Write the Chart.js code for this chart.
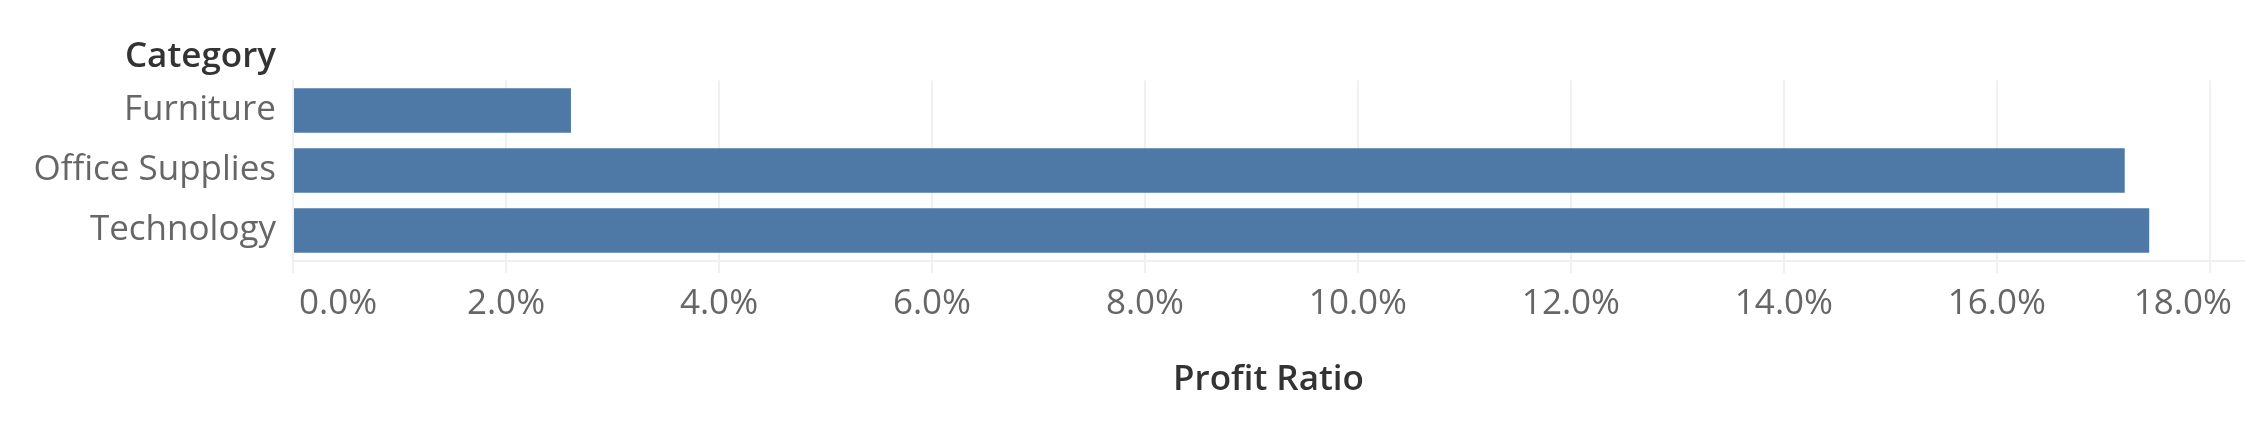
<!DOCTYPE html>
<html>
<head>
<meta charset="utf-8">
<script src="https://cdn.jsdelivr.net/npm/chart.js@4/dist/chart.umd.min.js"></script>
<style>
  html, body { margin: 0; padding: 0; background: #fff; }
  #wrap { width: 2260px; height: 433px; }
</style>
</head>
<body>
<div id="wrap"><canvas id="chart" width="2260" height="433"></canvas></div>
<script>
// dữ liệu
const categories = ['Furniture', 'Office Supplies', 'Technology'];
const profitRatio = [2.61, 17.20, 17.43];
const axisMax = 18.32;
const tickStep = 2;

const barColor = '#4e79a7';
const gridColor = '#f0f0f0';
const fontFamily = '"Open Sans", Lato, sans-serif';

// căn nhãn đầu/cuối của trục x vào trong như Tableau
const edgeLabels = {
    id: 'edgeLabels',
    beforeDraw(chart) {
        const sx = chart.scales.x;
        if (!sx || !sx.getLabelItems) return;
        const items = sx.getLabelItems();
        if (!items || !items.length) return;
        const first = items[0].options;
        const last = items[items.length - 1].options;
        first.textAlign = 'left';
        first.translation[0] = chart.chartArea.left + 6;
        last.textAlign = 'right';
        last.translation[0] = chart.chartArea.right - 12;
    }
};

// tiêu đề "Category" phía trên nhãn trục y
const rowHeader = {
    id: 'rowHeader',
    afterDraw(chart) {
        const sy = chart.scales.y;
        const ctx = chart.ctx;
        ctx.save();
        ctx.font = '600 35px ' + fontFamily;
        ctx.fillStyle = '#333333';
        ctx.textAlign = 'right';
        ctx.textBaseline = 'alphabetic';
        ctx.fillText('Category', sy.right - 17, 67);
        ctx.restore();
    }
};

new Chart(document.getElementById('chart').getContext('2d'), {
    type: 'bar',
    data: {
        labels: categories,
        datasets: [{
            label: 'Profit Ratio',
            data: profitRatio,
            backgroundColor: barColor,
            borderWidth: 0,
            barPercentage: 0.74,
            categoryPercentage: 1
        }]
    },
    options: {
        indexAxis: 'y',
        responsive: false,
        animation: false,
        layout: { padding: { top: 80.5, right: 16, bottom: 0, left: 0 } },
        plugins: {
            legend: { display: false },
            tooltip: { enabled: false }
        },
        scales: {
            x: {
                min: 0,
                max: axisMax,
                afterFit(s) {
                    s.height = 433 - 260.5;
                    s.paddingLeft = 0;
                    s.paddingRight = 0;
                },
                grid: { color: gridColor, lineWidth: 2, drawTicks: true, tickLength: 12.5, tickColor: gridColor },
                border: { display: true, color: gridColor, width: 2 },
                ticks: {
                    stepSize: tickStep,
                    includeBounds: false,
                    maxRotation: 0,
                    autoSkip: false,
                    padding: 10,
                    color: '#666666',
                    font: { family: fontFamily, size: 35 },
                    callback: v => v.toFixed(1) + '%'
                },
                title: {
                    display: true,
                    text: 'Profit Ratio',
                    color: '#333333',
                    font: { family: fontFamily, size: 35, weight: '600' },
                    padding: { top: 0, bottom: 32 }
                }
            },
            y: {
                afterFit(s) {
                    s.width = 293;
                    s.paddingTop = 0;
                    s.paddingBottom = 0;
                },
                grid: { display: false, drawTicks: false },
                border: { display: false },
                ticks: {
                    padding: 17,
                    color: '#666666',
                    font: { family: fontFamily, size: 35 }
                }
            }
        }
    },
    plugins: [edgeLabels, rowHeader]
});
</script>
</body>
</html>
